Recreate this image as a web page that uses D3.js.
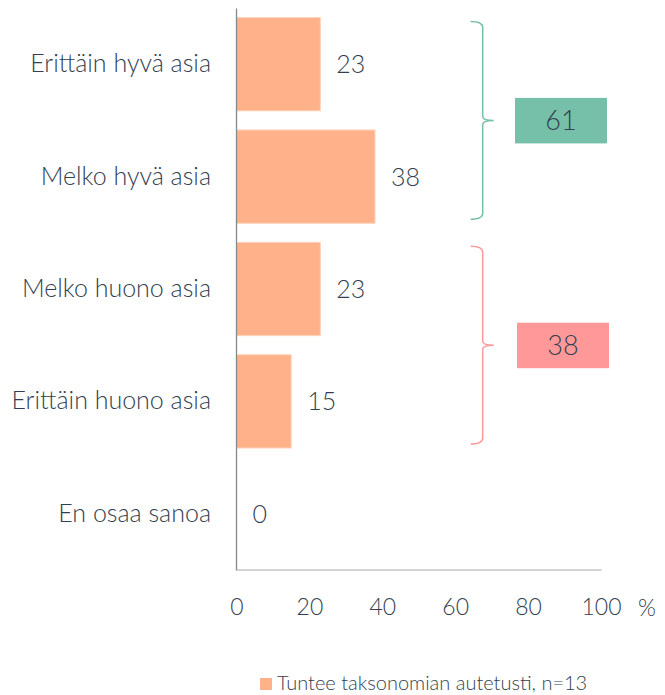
<!DOCTYPE html>
<html>
<head>
<meta charset="utf-8">
<script src="https://cdn.jsdelivr.net/npm/d3@7"></script>
<style>
  body { margin: 0; background: #fff; }
  text { font-family: Lato, "Open Sans", sans-serif; font-weight: 300; fill: #333f50; }
</style>
</head>
<body>
<div id="chart"></div>
<script>
// data
var categories = ["Erittäin hyvä asia", "Melko hyvä asia", "Melko huono asia", "Erittäin huono asia", "En osaa sanoa"];
var values = [23, 38, 23, 15, 0];
var ticks = [0, 20, 40, 60, 80, 100];
var seriesName = "Tuntee taksonomian autetusti, n=13";
// summary groups: first..last category index, total
var groupStart = [0, 2];
var groupEnd = [1, 3];
var groupTotals = [61, 38];
var groupColors = ["#76bfa8", "#ff9999"];

var svg = d3.select("#chart").append("svg").attr("width", 665).attr("height", 695)

var x = d3.scaleLinear().domain([0, 100]).range([236.5, 601])
var y = d3.scaleBand().domain(categories).range([8, 570]).paddingInner(0.17).paddingOuter(0.085)

// bars
svg.selectAll(".bar").data(values).enter().append("rect")
    .attr("class", "bar")
    .attr("x", x(0))
    .attr("y", function(d, i){ return y(categories[i]) })
    .attr("width", function(d){ return x(d) - x(0) })
    .attr("height", y.bandwidth())
    .attr("fill", "#ffb28a")
    .attr("stroke", "#ffd3bb")
    .attr("stroke-width", 1)

// value labels
svg.selectAll(".val").data(values).enter().append("text")
    .attr("class", "val")
    .attr("x", function(d){ return x(d) + 16 })
    .attr("y", function(d, i){ return y(categories[i]) + y.bandwidth() / 2 })
    .attr("dy", "0.36em")
    .style("font-size", "25px")
    .text(function(d){ return d })

// y axis
var yAxis = svg.append("g").attr("transform", "translate(236,0)")
    .call(d3.axisLeft(y).tickSize(0).tickPadding(25))
yAxis.select(".domain").attr("stroke", "#888").attr("stroke-width", 1.3)
yAxis.selectAll("text").style("font-size", "25px").attr("fill", "#333f50")

// x axis
var xAxis = svg.append("g").attr("transform", "translate(0,569.5)")
    .call(d3.axisBottom(x).tickValues(ticks).tickSize(0).tickPadding(29))
xAxis.select(".domain").attr("stroke", "#a6a6a6").attr("stroke-width", 1)
xAxis.selectAll("text").style("font-size", "23px").attr("fill", "#333f50")
svg.append("text").attr("x", 647).attr("y", 616).attr("text-anchor", "middle")
    .style("font-size", "23px").text("%")

// brackets and totals
for (var i = 0; i < groupTotals.length; i++) {
    var y0 = y(categories[groupStart[i]]) + 4
    var y1 = y(categories[groupEnd[i]]) + y.bandwidth() - 4
    var mid = (y0 + y1) / 2
    var bx = 482.7
    var p = d3.path()
    p.moveTo(bx - 12, y0)
    p.quadraticCurveTo(bx, y0, bx, y0 + 6)
    p.lineTo(bx, mid - 4)
    p.quadraticCurveTo(bx, mid, bx + 11, mid)
    p.moveTo(bx + 11, mid)
    p.quadraticCurveTo(bx, mid, bx, mid + 4)
    p.lineTo(bx, y1 - 6)
    p.quadraticCurveTo(bx, y1, bx - 12, y1)
    svg.append("path").attr("d", p.toString())
        .attr("fill", "none").attr("stroke", groupColors[i]).attr("stroke-width", 1.5)

    var boxX = i == 0 ? 515 : 517
    svg.append("rect").attr("x", boxX).attr("y", mid - 22.5)
        .attr("width", 92).attr("height", 45.5).attr("fill", groupColors[i])
    svg.append("text").attr("x", boxX + 46).attr("y", mid).attr("dy", "0.36em")
        .attr("text-anchor", "middle").style("font-size", "27px").text(groupTotals[i])
}

// legend
svg.append("rect").attr("x", 260).attr("y", 678).attr("width", 12).attr("height", 12).attr("fill", "#ffb28a")
svg.append("text").attr("x", 277).attr("y", 690).style("font-size", "20px").text(seriesName)
</script>
</body>
</html>
